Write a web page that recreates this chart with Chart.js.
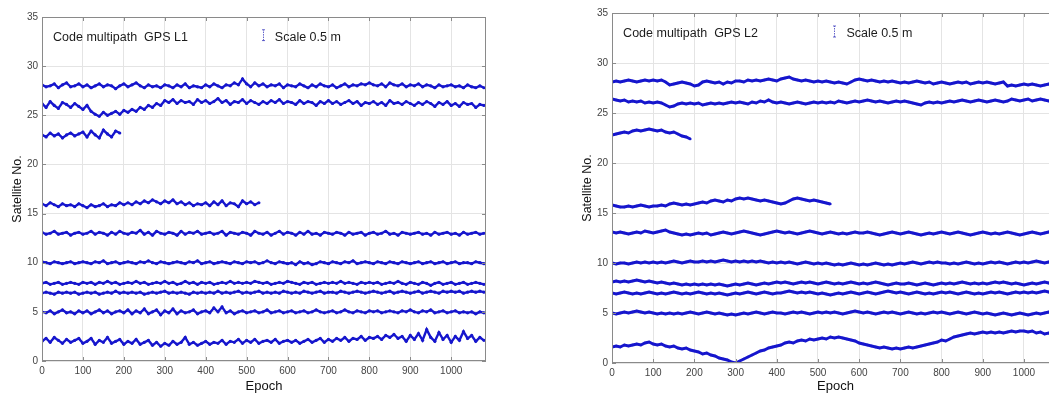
<!DOCTYPE html>
<html>
<head>
<meta charset="utf-8">
<script src="https://cdn.jsdelivr.net/npm/chart.js@4.4.1/dist/chart.umd.min.js"></script>
<style>
html, body { margin: 0; padding: 0; background: #fff; overflow: hidden; width: 1049px; height: 394px; }
.panel { position: absolute; top: 0; width: 500px; height: 394px; }
#panelL { left: 0; }
#panelR { left: 570px; }
</style>
</head>
<body>
<div class="panel" id="panelL"><canvas id="chartL" width="500" height="394"></canvas></div>
<div class="panel" id="panelR"><canvas id="chartR" width="500" height="394"></canvas></div>
<script>
// one value every 10 epochs (satellite no. + scaled multipath)
const EPOCH_STEP = 10;
const xTicks = [0, 100, 200, 300, 400, 500, 600, 700, 800, 900, 1000];
const yTicks = [0, 5, 10, 15, 20, 25, 30, 35];

// ---- GPS L1 ----
const l1Prn28 = [28.1,27.9,28.0,28.2,27.8,28.1,28.3,27.9,28.0,28.2,27.9,
  28.1,27.8,28.0,28.2,27.9,28.1,28.0,27.7,28.0,28.2,
  27.9,28.1,28.3,28.0,27.8,28.1,27.9,28.0,27.8,28.1,
  28.0,27.8,28.1,27.9,28.2,27.8,28.0,27.9,27.8,28.1,
  27.9,28.2,28.0,27.8,28.1,28.0,28.3,28.1,28.7,28.2,
  27.9,28.3,28.0,28.2,27.9,28.1,28.0,28.2,27.8,28.1,
  28.0,27.9,28.2,28.0,27.8,28.1,27.9,28.2,28.0,27.9,
  28.1,27.8,28.0,28.2,27.9,28.1,28.0,28.2,28.1,28.3,
  28.1,28.0,28.2,27.9,28.3,28.1,28.0,28.2,27.9,28.1,
  28.0,28.2,27.9,28.1,28.0,27.8,28.1,27.9,28.0,28.1,
  27.9,28.0,27.8,28.1,27.9,27.8,28.0,27.8];
const l1Prn26 = [26.2,25.8,26.4,26.0,25.7,26.3,26.1,25.8,26.2,25.9,25.6,
  26.0,25.4,25.1,24.9,25.3,25.0,25.2,25.4,25.1,25.5,
  25.3,25.6,25.4,25.8,25.6,26.0,25.8,26.2,26.0,26.5,
  26.3,26.6,26.2,26.5,26.3,26.4,26.1,26.6,26.3,26.5,
  26.2,26.4,26.7,26.3,26.5,26.1,26.4,26.3,26.6,26.2,
  26.5,26.3,26.1,26.4,26.2,26.5,26.3,26.6,26.2,26.4,
  26.3,26.1,26.5,26.2,26.4,26.3,26.0,26.4,26.2,26.5,
  26.2,26.4,26.1,26.3,26.5,26.2,26.4,26.0,26.3,26.2,
  26.4,26.1,26.3,26.0,26.5,26.2,26.3,26.1,26.4,26.2,
  26.0,26.3,26.1,26.4,26.2,25.9,26.3,26.1,26.4,26.0,
  26.2,25.9,26.3,26.1,26.2,25.8,26.1,26.0];
const l1Prn23 = [23.0,22.8,23.2,22.9,23.1,22.7,23.0,23.2,22.9,23.1,
  23.3,22.8,23.4,23.0,22.7,23.5,23.1,22.8,23.4,23.2];
const l1Prn16 = [16.0,15.8,16.1,15.9,15.7,16.0,15.8,15.9,15.7,16.0,15.8,
  15.6,15.9,15.7,15.8,16.0,15.7,15.9,15.8,16.1,15.9,
  16.1,15.9,16.2,16.0,16.3,16.1,16.4,16.2,16.0,16.3,
  16.1,16.4,16.0,16.2,15.9,16.1,15.8,16.0,15.9,16.1,
  15.8,16.2,15.9,16.3,15.8,16.1,16.0,15.7,16.3,16.0,
  16.2,15.9,16.1];
const l1Prn13 = [13.1,12.9,13.0,13.2,12.9,13.0,13.1,12.8,13.0,13.1,12.9,
  13.0,13.2,12.9,13.1,13.0,12.8,13.1,12.9,13.2,13.0,
  12.9,13.1,13.0,13.3,12.9,13.1,12.8,13.2,13.0,12.9,
  13.1,13.0,12.8,13.2,12.9,13.1,13.0,13.2,12.9,13.0,
  13.1,12.9,13.0,13.2,12.8,13.1,13.0,12.9,13.1,13.0,
  12.8,13.2,13.0,12.9,13.1,12.8,13.0,13.2,12.9,13.1,
  13.0,12.8,13.1,12.9,13.2,12.9,13.0,12.8,13.1,13.0,
  12.9,13.1,13.0,12.8,13.1,12.9,13.0,13.1,12.8,13.0,
  13.1,12.9,13.0,13.2,12.9,13.0,12.8,13.1,13.0,12.9,
  13.0,13.1,12.9,13.0,12.8,13.1,12.9,13.0,13.1,12.9,
  13.0,12.8,13.1,12.9,13.0,13.1,12.9,13.0];
const l1Prn10 = [10.1,10.0,9.9,10.1,10.0,9.9,10.0,10.1,9.9,10.0,10.1,
  10.0,9.9,10.1,10.0,10.2,9.9,10.0,10.1,9.9,10.0,
  10.1,10.0,9.9,10.1,10.0,10.2,10.0,9.9,10.1,10.0,
  9.9,10.0,10.1,10.0,9.9,10.1,10.0,10.2,9.9,10.0,
  10.1,9.9,10.0,10.1,10.0,9.9,10.1,10.0,9.9,10.1,
  10.0,10.1,9.9,10.0,10.2,10.0,9.9,10.1,10.0,9.9,
  10.0,9.8,10.1,9.9,10.0,9.8,9.9,10.1,10.0,9.9,
  10.1,10.0,9.9,10.1,10.0,10.2,9.9,10.0,10.1,10.0,
  9.9,10.1,10.0,9.9,10.1,10.0,9.9,10.1,10.0,9.9,
  10.0,10.1,9.9,10.0,10.1,9.9,10.0,10.1,9.9,10.0,
  10.1,9.9,10.0,10.0,9.9,10.1,10.0,9.9];
const l1Prn8 = [7.9,8.0,7.8,7.9,8.0,7.8,7.9,8.0,7.9,7.8,8.0,
  7.9,8.0,7.8,8.0,7.9,8.1,7.9,8.0,7.8,7.9,
  8.0,7.9,8.1,7.9,8.0,7.8,7.9,8.0,7.9,8.1,
  7.9,8.0,7.8,7.9,8.1,7.9,8.0,7.8,8.0,7.9,
  8.0,7.8,7.9,8.0,7.9,8.1,7.9,8.0,7.9,8.0,
  7.9,8.1,8.0,7.9,8.0,7.8,7.9,8.0,7.9,8.1,
  8.0,7.9,7.8,8.0,7.9,8.0,7.8,7.9,8.0,7.9,
  8.0,7.9,8.1,7.9,8.0,7.9,7.8,8.0,7.9,8.0,
  7.9,8.0,7.8,7.9,8.0,7.9,8.1,7.9,7.8,8.0,
  7.9,7.8,8.0,7.9,7.7,7.9,8.0,7.8,7.9,8.0,
  7.8,7.9,8.0,7.8,7.9,8.0,7.9,7.8];
const l1Prn7 = [6.9,7.0,6.9,6.8,7.0,6.9,7.0,6.9,7.0,6.8,6.9,
  7.0,6.9,7.0,6.8,6.9,7.0,6.9,7.1,6.9,7.0,
  6.9,7.0,6.9,7.0,6.8,6.9,7.0,6.9,7.0,7.1,
  6.9,7.0,6.9,7.0,6.9,6.8,7.0,6.9,7.0,6.9,
  7.0,6.9,7.1,6.9,7.0,6.9,7.0,7.1,6.9,7.0,
  6.9,7.0,7.1,6.9,7.0,6.9,7.0,6.9,7.1,7.0,
  6.9,7.0,6.9,7.1,7.0,6.9,7.0,7.1,6.9,7.0,
  7.0,6.9,7.1,7.0,6.9,7.0,7.1,7.0,6.9,7.0,
  7.1,7.0,6.9,7.0,7.1,6.9,7.0,7.1,7.0,6.9,
  7.0,7.1,6.9,7.0,7.1,7.0,6.9,7.1,7.0,7.1,
  7.0,7.1,6.9,7.0,7.1,7.0,7.1,7.0];
const l1Prn5 = [5.0,4.9,5.1,4.8,5.0,5.2,4.9,5.0,4.8,5.1,4.9,
  5.1,4.8,5.0,5.2,4.9,5.1,4.8,5.0,5.1,4.9,
  5.2,4.8,5.1,4.9,5.3,4.8,5.0,5.2,4.7,5.1,
  4.9,5.3,4.8,5.1,4.9,5.0,5.2,4.8,5.0,5.1,
  4.9,5.4,5.0,5.5,4.9,5.1,4.8,5.0,5.1,4.9,
  5.0,5.1,4.9,5.0,5.2,4.9,5.0,5.1,4.9,5.0,
  5.1,4.9,5.0,5.1,4.9,5.0,5.2,5.0,4.9,5.0,
  5.1,4.9,5.0,5.2,5.0,4.9,5.1,5.0,4.9,5.1,
  5.0,5.1,4.9,5.0,5.1,5.0,4.9,5.1,5.0,5.2,
  5.0,4.9,5.1,5.0,5.2,4.9,5.0,5.1,4.9,5.0,
  5.1,4.9,5.0,4.9,5.0,4.8,5.0,4.9];
const l1Prn2 = [2.0,2.3,1.9,2.4,2.1,1.8,2.2,1.9,2.1,2.3,1.8,
  2.0,2.3,1.7,2.1,1.9,2.4,1.8,2.0,2.2,1.7,
  2.0,1.8,2.2,1.7,1.9,2.1,1.6,1.9,1.5,1.8,
  1.6,2.0,1.7,1.9,2.4,1.7,1.9,1.6,1.8,2.0,
  1.7,1.9,1.8,2.1,1.7,2.0,1.9,2.2,1.8,2.1,
  1.9,2.2,1.8,2.0,2.1,1.9,2.2,1.8,2.0,2.1,
  1.9,2.1,1.8,2.0,2.2,1.9,2.1,2.3,1.9,2.2,
  2.0,2.3,2.1,2.4,2.0,2.3,2.2,2.5,2.1,2.4,
  2.3,2.5,2.2,2.6,2.4,2.7,2.3,2.5,2.0,2.6,
  2.2,2.8,2.1,3.2,2.4,2.0,2.9,2.2,2.6,1.9,
  2.5,2.1,3.0,2.3,2.6,2.0,2.4,2.1];

// ---- GPS L2 ----
const l2Prn28 = [28.1,28.2,28.1,28.2,28.3,28.2,28.1,28.2,28.3,28.2,28.3,
  28.2,28.3,28.1,27.8,27.9,28.0,28.1,28.0,27.9,27.7,
  27.8,28.1,28.2,28.1,28.0,28.1,27.9,28.1,28.0,28.2,
  28.2,28.1,28.3,28.2,28.3,28.2,28.3,28.4,28.3,28.2,
  28.4,28.5,28.6,28.4,28.3,28.2,28.3,28.2,28.1,28.2,
  28.1,28.2,28.1,28.0,28.1,28.0,27.9,28.1,28.3,28.4,
  28.3,28.2,28.3,28.2,28.1,28.2,28.1,28.2,28.1,28.0,
  28.1,28.0,28.1,28.2,28.1,28.0,28.1,27.9,28.0,28.1,
  28.0,27.9,28.0,28.1,28.0,28.1,27.9,28.0,28.1,28.0,
  28.1,28.0,27.9,28.0,28.1,27.7,27.8,27.7,27.8,27.9,
  27.8,27.9,27.8,27.7,27.8,27.9,27.7,27.8];
const l2Prn26 = [26.4,26.3,26.2,26.3,26.1,26.2,26.1,26.2,26.0,26.1,26.0,
  26.1,26.0,25.8,25.6,25.7,25.9,26.0,25.9,26.0,25.9,
  26.0,25.8,25.9,26.0,25.9,26.0,25.9,26.0,26.1,26.0,
  26.1,26.0,25.9,26.1,26.0,26.2,26.1,26.3,26.1,26.0,
  26.1,26.0,25.9,26.0,26.1,26.0,25.9,26.0,26.1,26.0,
  26.1,26.0,26.1,26.0,26.2,26.1,26.0,26.1,26.2,26.1,
  26.2,26.3,26.2,26.1,26.2,26.1,26.0,26.1,26.2,26.1,
  26.2,26.1,26.0,25.9,25.8,26.0,26.1,26.0,26.1,26.0,
  26.1,26.2,26.1,26.2,26.3,26.2,26.1,26.2,26.3,26.2,
  26.1,26.2,26.3,26.2,26.1,26.2,26.4,26.3,26.2,26.3,
  26.4,26.2,26.3,26.4,26.3,26.2,26.3,26.4];
const l2Prn23 = [22.8,22.9,23.0,23.1,23.0,23.2,23.3,23.2,23.3,23.4,
  23.3,23.2,23.3,23.1,23.0,23.1,22.9,22.7,22.6,22.4];
const l2Prn16 = [15.8,15.7,15.6,15.6,15.7,15.6,15.7,15.8,15.7,15.6,15.7,
  15.7,15.8,15.7,15.9,16.0,15.9,15.8,15.9,15.8,15.9,
  16.0,16.1,16.0,16.2,16.3,16.2,16.1,16.3,16.2,16.4,
  16.5,16.4,16.5,16.4,16.3,16.2,16.3,16.2,16.1,16.0,
  15.9,16.0,16.2,16.4,16.5,16.4,16.3,16.2,16.3,16.2,
  16.1,16.0,15.9];
const l2Prn13 = [13.1,13.0,13.1,13.0,12.9,13.0,13.1,13.0,13.2,13.1,13.0,
  13.1,13.2,13.3,13.1,13.0,12.9,12.8,12.9,12.8,12.9,
  13.0,12.9,13.0,12.8,12.9,13.0,13.1,13.0,12.9,13.0,
  13.1,13.2,13.1,13.0,12.9,12.8,12.9,13.0,13.1,13.2,
  13.1,13.0,13.1,13.0,12.9,13.0,13.1,13.2,13.1,13.0,
  12.9,13.0,13.1,13.0,12.9,13.0,12.9,13.0,13.1,13.0,
  13.0,13.1,13.0,12.9,12.8,12.9,13.0,13.1,13.0,12.9,
  13.0,13.1,13.0,12.9,12.8,12.9,13.0,12.9,13.0,13.1,
  13.0,12.9,13.0,13.1,13.0,12.9,12.8,12.9,13.0,13.1,
  13.0,12.9,13.0,12.9,13.0,13.1,13.0,12.9,12.8,12.9,
  13.0,13.1,13.0,12.9,13.0,13.1,13.2,13.1];
const l2Prn10 = [10.0,9.9,10.0,10.0,9.9,10.0,10.1,10.0,10.1,10.0,10.1,
  10.0,10.1,10.0,10.1,10.2,10.1,10.0,10.1,10.2,10.1,
  10.1,10.2,10.1,10.2,10.1,10.2,10.3,10.2,10.1,10.2,
  10.1,10.2,10.1,10.2,10.1,10.2,10.1,10.0,10.1,10.0,
  10.1,10.0,10.1,10.0,9.9,10.0,10.1,10.0,9.9,10.0,
  9.9,10.0,9.9,9.8,9.9,9.8,9.9,10.0,9.9,9.8,
  9.9,9.8,9.9,10.0,9.9,9.8,9.9,9.8,9.9,10.0,
  9.9,10.0,10.1,10.0,9.9,10.0,10.1,10.0,10.1,10.0,
  10.0,9.9,10.0,9.9,10.0,10.1,10.0,9.9,10.0,9.9,
  10.0,10.1,10.0,10.1,10.0,9.9,10.0,10.1,10.0,10.1,
  10.0,10.1,10.2,10.1,10.0,10.1,10.2,10.1];
const l2Prn8 = [8.1,8.2,8.1,8.2,8.1,8.2,8.3,8.2,8.1,8.2,8.1,
  8.0,8.1,8.0,7.9,8.0,7.9,7.8,7.9,7.8,7.9,
  7.8,7.9,7.8,7.9,7.8,7.9,7.8,7.7,7.8,7.9,
  7.8,7.9,8.0,7.9,7.8,7.9,8.0,7.9,8.0,8.1,
  8.0,8.1,8.0,7.9,8.0,8.1,8.0,8.1,8.0,7.9,
  8.0,8.1,8.0,7.9,8.0,7.9,8.0,8.1,8.0,7.9,
  8.0,7.9,8.0,8.1,8.0,7.9,7.8,7.9,8.0,7.9,
  7.9,8.0,7.9,7.8,7.9,8.0,7.9,7.8,7.9,8.0,
  7.9,8.0,7.9,8.0,8.1,8.0,7.9,8.0,7.9,8.0,
  7.9,8.0,8.1,8.0,8.1,8.0,7.9,8.0,7.9,7.8,
  7.9,8.0,7.9,8.0,8.1,8.0,7.9,8.0];
const l2Prn7 = [7.0,6.9,7.0,7.1,7.0,6.9,7.0,6.9,7.0,7.1,7.0,
  6.9,7.0,6.9,7.0,7.1,7.0,6.9,7.0,6.9,7.0,
  7.1,7.0,6.9,7.0,6.9,7.0,6.9,6.8,6.9,7.0,
  6.9,7.0,7.1,7.0,6.9,7.0,7.1,7.0,6.9,7.0,
  7.0,7.1,7.2,7.1,7.0,7.1,7.0,7.1,7.0,6.9,
  7.0,6.9,6.8,6.9,7.0,6.9,7.0,7.1,7.0,6.9,
  7.0,7.1,7.0,6.9,7.0,7.1,7.2,7.1,7.0,7.1,
  7.0,6.9,7.0,7.1,7.0,6.9,7.0,6.9,7.0,7.1,
  7.0,7.1,7.0,6.9,7.0,7.1,7.0,6.9,7.0,6.9,
  7.0,7.1,7.0,7.1,7.0,6.9,7.0,7.1,7.0,7.1,
  7.0,7.1,7.0,7.1,7.2,7.1,7.0,7.1];
const l2Prn5 = [5.0,4.9,5.0,5.1,5.0,5.1,5.2,5.1,5.0,5.1,5.0,
  4.9,5.0,4.9,5.0,4.9,5.0,4.9,5.0,5.1,5.0,
  4.9,5.0,5.1,5.0,4.9,5.0,4.9,4.8,4.9,4.8,
  4.9,5.0,4.9,5.0,5.1,5.0,4.9,5.0,5.1,5.0,
  5.0,4.9,5.0,5.1,5.0,5.1,5.0,4.9,5.0,5.1,
  5.0,5.1,5.0,5.1,5.0,4.9,5.0,5.1,5.2,5.1,
  5.0,5.1,5.0,4.9,5.0,5.1,5.0,5.1,5.0,4.9,
  5.0,5.1,5.0,4.9,5.0,4.9,5.0,5.1,5.0,5.1,
  5.0,4.9,5.0,5.1,5.0,4.9,5.0,5.1,5.0,4.9,
  5.0,4.9,4.8,4.9,5.0,4.9,4.8,4.9,5.0,4.9,
  4.8,4.9,5.0,4.9,5.0,5.1,5.0,4.9];
const l2Prn2 = [1.6,1.7,1.6,1.8,1.7,1.8,1.9,1.8,2.0,2.1,1.9,
  1.8,1.9,1.7,1.6,1.7,1.5,1.4,1.5,1.3,1.2,
  1.1,0.9,1.0,0.8,0.7,0.5,0.4,0.3,0.1,0.0,
  0.2,0.4,0.6,0.8,1.0,1.2,1.3,1.5,1.6,1.7,
  1.8,2.0,2.1,2.0,2.2,2.3,2.2,2.4,2.3,2.4,
  2.5,2.4,2.6,2.5,2.6,2.5,2.4,2.3,2.2,2.0,
  1.9,1.8,1.7,1.6,1.5,1.6,1.5,1.4,1.5,1.4,
  1.5,1.6,1.5,1.6,1.7,1.8,1.9,2.0,2.1,2.3,
  2.2,2.4,2.6,2.7,2.8,2.9,3.0,2.9,3.0,3.1,
  3.0,3.1,3.0,3.1,3.0,3.1,3.2,3.1,3.2,3.2,
  3.1,3.2,3.0,3.1,2.9,3.0,2.8,2.9];

const seriesL1 = [l1Prn28, l1Prn26, l1Prn23, l1Prn16, l1Prn13, l1Prn10, l1Prn8, l1Prn7, l1Prn5, l1Prn2];
const seriesL2 = [l2Prn28, l2Prn26, l2Prn23, l2Prn16, l2Prn13, l2Prn10, l2Prn8, l2Prn7, l2Prn5, l2Prn2];

const FONT = '"Liberation Sans", Arial, Helvetica, sans-serif';
const BLUE = 'rgb(22, 22, 205)';

// draws the matlab-style box, inward ticks and the text inside the axes
const framePlugin = {
  id: 'frame',
  afterDraw(chart, args, opts) {
    const { ctx, chartArea: a } = chart;
    const x = chart.scales.x, y = chart.scales.y;
    ctx.save();
    ctx.strokeStyle = '#8a8a8a';
    ctx.lineWidth = 1;
    ctx.strokeRect(a.left + 0.5, a.top + 0.5, a.right - a.left - 1, a.bottom - a.top - 1);
    ctx.beginPath();
    xTicks.forEach(v => {
      const px = Math.round(x.getPixelForValue(v)) + 0.5;
      ctx.moveTo(px, a.bottom); ctx.lineTo(px, a.bottom - 4);
      ctx.moveTo(px, a.top); ctx.lineTo(px, a.top + 4);
    });
    yTicks.forEach(v => {
      const py = Math.round(y.getPixelForValue(v)) + 0.5;
      ctx.moveTo(a.left, py); ctx.lineTo(a.left + 4, py);
      ctx.moveTo(a.right, py); ctx.lineTo(a.right - 4, py);
    });
    ctx.stroke();

    ctx.fillStyle = '#1c1c1c';
    ctx.font = '12.5px ' + FONT;
    ctx.textBaseline = 'alphabetic';
    ctx.fillText(opts.title, x.getPixelForValue(27), y.getPixelForValue(32.6));
    ctx.fillText('Scale 0.5 m', x.getPixelForValue(569), y.getPixelForValue(32.6));

    // scale bar
    const bx = Math.round(x.getPixelForValue(540)) + 0.5;
    const b0 = y.getPixelForValue(32.6), b1 = y.getPixelForValue(33.7);
    ctx.strokeStyle = 'rgba(60, 60, 190, 0.8)';
    ctx.setLineDash([1.5, 1]);
    ctx.beginPath();
    ctx.moveTo(bx, b0); ctx.lineTo(bx, b1);
    ctx.stroke();
    ctx.setLineDash([]);
    ctx.beginPath();
    ctx.moveTo(bx - 1.5, b0); ctx.lineTo(bx + 1.5, b0);
    ctx.moveTo(bx - 1.5, b1); ctx.lineTo(bx + 1.5, b1);
    ctx.stroke();
    ctx.restore();
  }
};

function makePanel(canvasId, series, title, top, right, bottomH, lineW, dotR) {
  const datasets = series.map(vals => ({
    data: vals.map((v, i) => ({ x: i * EPOCH_STEP, y: v })),
    borderColor: BLUE,
    backgroundColor: BLUE,
    borderWidth: lineW,
    pointRadius: dotR,
    pointBorderWidth: 0,
    showLine: true,
    tension: 0
  }));

  return new Chart(document.getElementById(canvasId), {
    type: 'scatter',
    data: { datasets },
    plugins: [framePlugin],
    options: {
      responsive: false,
      animation: false,
      layout: { padding: { top: top, right: right, left: 0, bottom: 0 } },
      plugins: {
        legend: { display: false },
        tooltip: { enabled: false },
        frame: { title: title }
      },
      scales: {
        x: {
          type: 'linear',
          min: 0,
          max: 1085,
          afterBuildTicks: s => { s.ticks = xTicks.map(v => ({ value: v })); },
          afterFit: s => { s.height = bottomH; },
          ticks: { font: { size: 10, family: FONT }, color: '#444', padding: 4, maxRotation: 0, callback: v => String(v) },
          grid: { color: '#e4e4e4', drawTicks: false },
          border: { display: false },
          title: { display: true, text: 'Epoch', color: '#111', font: { size: 13, family: FONT }, padding: { top: 0, bottom: 0 } }
        },
        y: {
          min: 0,
          max: 35,
          afterBuildTicks: s => { s.ticks = yTicks.map(v => ({ value: v })); },
          afterFit: s => { s.width = 42; },
          ticks: { font: { size: 10, family: FONT }, color: '#444', padding: 4, callback: v => String(v) },
          grid: { color: '#e4e4e4', drawTicks: false },
          border: { display: false },
          title: { display: true, text: 'Satellite No.', color: '#111', font: { size: 12.5, family: FONT }, padding: { top: 10, bottom: 0 } }
        }
      }
    }
  });
}

makePanel('chartL', seriesL1, 'Code multipath  GPS L1', 17, 14, 33, 2.4, 1.6);
makePanel('chartR', seriesL2, 'Code multipath  GPS L2', 13, 11, 31, 3, 1.3);
</script>
</body>
</html>
